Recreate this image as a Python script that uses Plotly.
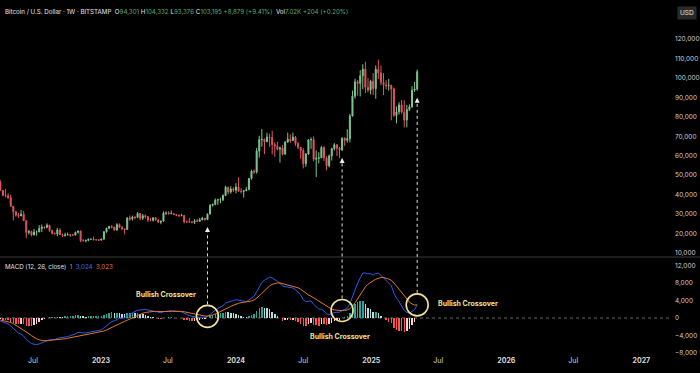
import pandas as pd
import plotly.graph_objects as go

# ---------------- data (weekly BTC/USD, prices in thousands of USD) ----------------
week_start = "2022-04-04"
n_weeks = 162
weeks = pd.date_range(week_start, periods=n_weeks, freq="7D")

open_k = [46.4, 42.2, 39.7, 39.4, 38.5, 34.1, 31.3, 29.4, 29.0, 29.9,
          26.6, 20.6, 21.0, 19.3, 20.8, 20.8, 22.6, 23.3, 23.2, 24.3,
          21.5, 20.0, 19.8, 21.8, 19.4, 18.9, 19.3, 19.4, 19.2, 19.2,
          20.6, 21.3, 16.3, 16.3, 16.5, 17.1, 17.1, 16.8, 16.8, 16.6,
          17.1, 20.9, 22.7, 23.7, 23.3, 21.8, 24.6, 23.2, 22.4, 22.1,
          28.0, 27.5, 28.5, 28.3, 30.3, 27.8, 29.2, 28.7, 26.9, 26.8,
          28.1, 27.1, 25.8, 26.3, 30.5, 30.6, 30.2, 30.3, 29.8, 29.3,
          29.1, 29.3, 26.1, 26.0, 25.9, 25.8, 26.6, 26.3, 27.0, 27.9,
          27.2, 30.0, 34.5, 35.0, 37.1, 37.4, 37.4, 39.5, 43.8, 41.4,
          42.9, 42.3, 43.9, 41.7, 41.6, 42.0, 42.6, 48.3, 52.1, 51.7,
          62.4, 68.3, 68.4, 67.2, 69.6, 69.4, 65.7, 64.9, 63.4, 64.0,
          60.8, 67.0, 68.5, 67.8, 69.6, 66.2, 64.3, 62.7, 55.9, 60.8,
          68.2, 68.3, 58.2, 58.7, 58.9, 64.2, 58.9, 54.8, 59.9, 63.6,
          65.6, 63.9, 63.0, 69.0, 68.0, 68.7, 80.4, 90.6, 98.0, 97.2,
          101.1, 104.5, 95.2, 93.7, 98.3, 94.5, 104.4, 102.6, 97.7, 96.5,
          96.1, 96.2, 94.3, 80.7, 82.6, 86.1, 82.4, 78.4, 83.7, 85.1,
          93.7, 94.301]

high_k = [47.4, 42.4, 42.9, 40.7, 40.0, 34.2, 31.4, 30.6, 32.2, 31.7,
          26.8, 21.9, 21.5, 22.4, 21.5, 24.3, 24.6, 23.6, 25.2, 24.4,
          22.0, 20.6, 22.8, 22.7, 19.9, 20.4, 20.5, 19.6, 19.7, 21.0,
          21.5, 21.5, 17.2, 16.8, 17.4, 17.4, 18.4, 17.0, 16.9, 17.4,
          21.3, 23.0, 23.9, 24.2, 23.4, 25.3, 25.2, 23.9, 22.6, 28.4,
          29.2, 29.2, 28.8, 31.0, 30.5, 30.0, 29.8, 28.9, 28.0, 28.4,
          28.4, 27.4, 26.7, 31.4, 31.3, 31.5, 31.8, 30.4, 30.0, 30.0,
          30.2, 29.5, 26.8, 28.1, 26.4, 27.4, 27.5, 28.0, 28.6, 28.0,
          30.3, 35.2, 35.3, 38.0, 37.9, 38.4, 40.2, 44.5, 44.0, 44.3,
          43.8, 45.9, 48.9, 43.3, 42.3, 43.9, 48.5, 52.8, 52.9, 64.0,
          70.2, 73.7, 68.9, 71.8, 71.3, 72.8, 66.9, 67.2, 64.7, 65.5,
          67.5, 71.9, 71.0, 71.9, 70.1, 67.0, 64.5, 63.8, 61.4, 68.4,
          69.4, 70.0, 62.7, 61.8, 65.0, 64.9, 59.8, 60.6, 64.1, 66.5,
          66.0, 64.5, 69.5, 69.5, 73.6, 81.5, 93.5, 99.6, 98.9, 104.0,
          107.0, 108.3, 99.9, 99.0, 102.5, 106.4, 109.4, 106.4, 102.5, 98.8,
          99.5, 96.5, 95.0, 85.3, 87.5, 88.7, 88.5, 86.1, 86.4, 95.7,
          97.9, 104.332]

low_k = [42.1, 39.2, 38.6, 37.7, 33.7, 26.7, 28.7, 28.0, 29.0, 26.5,
         17.6, 19.6, 18.6, 19.0, 18.9, 20.8, 20.7, 22.4, 22.7, 20.8,
         19.6, 19.6, 18.6, 19.3, 18.2, 18.5, 19.2, 18.2, 18.9, 19.1,
         20.1, 15.6, 15.9, 15.5, 16.0, 16.9, 16.6, 16.4, 16.3, 16.5,
         17.0, 20.4, 22.3, 22.6, 21.4, 21.4, 22.8, 21.9, 19.6, 21.9,
         26.6, 26.6, 27.2, 27.9, 26.9, 27.0, 27.7, 25.8, 26.3, 26.1,
         26.6, 25.4, 24.8, 26.2, 29.5, 29.7, 29.9, 29.5, 28.9, 28.6,
         29.0, 25.2, 25.8, 25.4, 25.3, 24.9, 26.0, 26.0, 26.9, 26.6,
         26.9, 29.9, 33.9, 34.5, 34.8, 35.6, 36.7, 39.4, 40.2, 40.5,
         41.4, 40.7, 41.5, 40.6, 38.5, 41.9, 42.3, 47.7, 50.6, 50.8,
         59.0, 64.6, 60.8, 67.0, 64.5, 60.7, 59.6, 62.8, 56.5, 60.2,
         60.7, 66.7, 66.7, 67.6, 65.1, 63.4, 58.4, 53.5, 54.3, 60.6,
         63.5, 57.1, 49.0, 56.1, 58.8, 57.2, 52.6, 54.0, 57.5, 62.7,
         59.8, 58.9, 62.4, 65.1, 66.8, 66.8, 80.2, 89.4, 90.8, 90.5,
         94.2, 92.2, 92.5, 91.5, 91.2, 89.3, 99.5, 96.2, 91.2, 94.1,
         93.4, 78.2, 80.0, 76.6, 81.2, 81.6, 74.5, 74.6, 83.0, 84.6,
         92.8, 93.376]

close_k = [42.2, 39.7, 39.4, 38.5, 34.1, 31.3, 29.4, 29.0, 29.9, 26.6,
           20.6, 21.0, 19.3, 20.8, 20.8, 22.6, 23.3, 23.2, 24.3, 21.5,
           20.0, 19.8, 21.8, 19.4, 18.9, 19.3, 19.4, 19.2, 19.2, 20.6,
           21.3, 16.3, 16.3, 16.5, 17.1, 17.1, 16.8, 16.8, 16.6, 17.1,
           20.9, 22.7, 23.7, 23.3, 21.8, 24.6, 23.2, 22.4, 22.1, 28.0,
           27.5, 28.5, 28.3, 30.3, 27.8, 29.2, 28.7, 26.9, 26.8, 28.1,
           27.1, 25.8, 26.3, 30.5, 30.6, 30.2, 30.3, 29.8, 29.3, 29.1,
           29.3, 26.1, 26.0, 25.9, 25.8, 26.6, 26.3, 27.0, 27.9, 27.2,
           30.0, 34.5, 35.0, 37.1, 37.4, 37.4, 39.5, 43.8, 41.4, 42.9,
           42.3, 43.9, 41.7, 41.6, 42.0, 42.6, 48.3, 52.1, 51.7, 62.4,
           68.3, 68.4, 67.2, 69.6, 69.4, 65.7, 64.9, 63.4, 64.0, 60.8,
           67.0, 68.5, 67.8, 69.6, 66.2, 64.3, 62.7, 55.9, 60.8, 68.2,
           68.3, 58.2, 58.7, 58.9, 64.2, 58.9, 54.8, 59.9, 63.6, 65.6,
           63.9, 63.0, 69.0, 68.0, 68.7, 80.4, 90.6, 98.0, 97.2, 101.1,
           104.5, 95.2, 93.7, 98.3, 94.5, 104.4, 102.6, 97.7, 96.5, 96.1,
           96.2, 94.3, 80.7, 82.6, 86.1, 82.4, 78.4, 83.7, 85.1, 93.7,
           94.3, 103.195]

# MACD (12, 26, close) pane, thousands of USD
macd_k = [-0.74, -0.96, -1.14, -1.35, -1.84, -2.44, -3.02, -3.48, -3.73, -4.14,
          -4.90, -5.40, -5.86, -6.04, -6.11, -5.95, -5.71, -5.46, -5.12, -5.02,
          -4.99, -4.94, -4.68, -4.61, -4.55, -4.42, -4.25, -4.09, -3.92, -3.63,
          -3.30, -3.41, -3.45, -3.43, -3.32, -3.21, -3.10, -2.99, -2.88, -2.72,
          -2.27, -1.74, -1.23, -0.84, -0.65, -0.27, -0.08, 0.00, 0.04, 0.54,
          0.89, 1.23, 1.47, 1.80, 1.84, 1.96, 1.99, 1.85, 1.71, 1.69,
          1.57, 1.35, 1.21, 1.41, 1.56, 1.64, 1.68, 1.66, 1.58, 1.48,
          1.41, 1.08, 0.81, 0.57, 0.37, 0.28, 0.18, 0.15, 0.20, 0.18,
          0.38, 0.90, 1.33, 1.82, 2.21, 2.49, 2.84, 3.43, 3.66, 3.93,
          4.03, 4.20, 4.11, 3.98, 3.87, 3.78, 4.13, 4.66, 4.99, 6.04,
          7.27, 8.16, 8.66, 9.15, 9.42, 9.23, 8.90, 8.43, 8.01, 7.33,
          7.21, 7.15, 6.97, 6.90, 6.48, 5.93, 5.31, 4.22, 3.71, 3.85,
          3.93, 3.14, 2.53, 2.04, 2.06, 1.62, 0.94, 0.80, 0.97, 1.26,
          1.33, 1.30, 1.74, 1.98, 2.21, 3.30, 4.93, 6.74, 8.01, 9.22,
          10.34, 10.36, 10.14, 10.22, 9.86, 10.25, 10.30, 9.83, 9.25, 8.66,
          8.11, 7.44, 5.74, 4.49, 3.74, 2.82, 1.75, 1.31, 1.06, 1.54,
          1.94, 3.024]

signal_k = [-0.47, -0.57, -0.68, -0.82, -1.02, -1.30, -1.65, -2.01, -2.36, -2.71,
            -3.15, -3.60, -4.05, -4.45, -4.78, -5.02, -5.16, -5.22, -5.20, -5.16,
            -5.13, -5.09, -5.01, -4.93, -4.85, -4.77, -4.66, -4.55, -4.42, -4.26,
            -4.07, -3.94, -3.84, -3.76, -3.67, -3.58, -3.48, -3.38, -3.28, -3.17,
            -2.99, -2.74, -2.44, -2.12, -1.82, -1.51, -1.23, -0.98, -0.78, -0.51,
            -0.23, 0.06, 0.34, 0.63, 0.88, 1.09, 1.27, 1.39, 1.45, 1.50,
            1.51, 1.48, 1.43, 1.42, 1.45, 1.49, 1.53, 1.55, 1.56, 1.54,
            1.52, 1.43, 1.31, 1.16, 1.00, 0.86, 0.72, 0.61, 0.53, 0.46,
            0.44, 0.53, 0.69, 0.92, 1.18, 1.44, 1.72, 2.06, 2.38, 2.69,
            2.96, 3.21, 3.39, 3.51, 3.58, 3.62, 3.72, 3.91, 4.13, 4.51,
            5.06, 5.68, 6.28, 6.85, 7.37, 7.74, 7.97, 8.06, 8.05, 7.91,
            7.77, 7.64, 7.51, 7.39, 7.21, 6.95, 6.62, 6.14, 5.66, 5.30,
            5.02, 4.65, 4.22, 3.79, 3.44, 3.08, 2.65, 2.28, 2.02, 1.87,
            1.76, 1.67, 1.68, 1.74, 1.84, 2.13, 2.69, 3.50, 4.40, 5.37,
            6.36, 7.16, 7.76, 8.25, 8.57, 8.91, 9.19, 9.32, 9.30, 9.17,
            8.96, 8.66, 8.07, 7.36, 6.63, 5.87, 5.05, 4.30, 3.65, 3.23,
            2.97, 3.023]

hist_k = [-0.27, -0.39, -0.46, -0.54, -0.82, -1.14, -1.37, -1.47, -1.37, -1.43,
          -1.75, -1.80, -1.81, -1.59, -1.33, -0.93, -0.56, -0.24, 0.08, 0.14,
          0.14, 0.15, 0.33, 0.32, 0.30, 0.35, 0.41, 0.46, 0.50, 0.63,
          0.77, 0.53, 0.39, 0.33, 0.35, 0.37, 0.38, 0.39, 0.40, 0.45,
          0.72, 1.00, 1.21, 1.28, 1.17, 1.24, 1.15, 0.98, 0.82, 1.05,
          1.12, 1.17, 1.13, 1.17, 0.96, 0.87, 0.72, 0.46, 0.26, 0.19,
          0.06, -0.13, -0.22, -0.01, 0.11, 0.15, 0.15, 0.11, 0.02, -0.06,
          -0.11, -0.35, -0.50, -0.59, -0.63, -0.58, -0.54, -0.46, -0.33, -0.28,
          -0.06, 0.37, 0.64, 0.90, 1.03, 1.05, 1.12, 1.37, 1.28, 1.24,
          1.07, 0.99, 0.72, 0.47, 0.29, 0.16, 0.41, 0.75, 0.87, 1.53,
          2.21, 2.48, 2.38, 2.30, 2.06, 1.49, 0.93, 0.37, -0.04, -0.58,
          -0.56, -0.49, -0.54, -0.49, -0.73, -1.02, -1.31, -1.92, -1.95, -1.44,
          -1.09, -1.51, -1.69, -1.75, -1.38, -1.46, -1.71, -1.48, -1.05, -0.61,
          -0.43, -0.37, 0.06, 0.24, 0.37, 1.17, 2.24, 3.24, 3.61, 3.86,
          3.98, 3.20, 2.38, 1.97, 1.29, 1.34, 1.11, 0.52, -0.05, -0.51,
          -0.85, -1.22, -2.33, -2.87, -2.89, -3.05, -3.30, -2.99, -2.59, -1.69,
          -1.03, 0.001]

price_ticks = [10000, 20000, 30000, 40000, 50000, 60000, 70000, 80000, 90000, 100000, 110000, 120000]
macd_ticks = [-8000, -4000, 0, 4000, 8000, 12000]
x_tick_dates = ["2022-07-01", "2023-01-01", "2023-07-01", "2024-01-01", "2024-07-01",
                "2025-01-01", "2025-07-01", "2026-01-01", "2026-07-01", "2027-01-01"]
x_tick_text = ["Jul", "2023", "Jul", "2024", "Jul", "2025", "Jul", "2026", "Jul", "2027"]
crossover_weeks = ["2023-10-16", "2024-10-14", "2025-05-05"]
crossover_label = "Bullish Crossover"

to_usd = lambda arr: [v * 1000 for v in arr]
o, h, l, c = to_usd(open_k), to_usd(high_k), to_usd(low_k), to_usd(close_k)
macd, signal, hist = to_usd(macd_k), to_usd(signal_k), to_usd(hist_k)

# ---------------- layout geometry ----------------
W, H = 700, 373
M_R, M_B = 28, 18
PW = W - M_R
PH = H - M_B                       # plot-area height in px
price_dom = [(PH - 257) / PH, (PH - 20) / PH]
macd_dom = [0.0, (PH - 258) / PH]
price_rng = [7943, 129769]
macd_rng = [-8506, 13793]
x_rng = ["2022-04-03", "2027-03-25"]

BG = "#000000"
UP, DN = "#7cc690", "#e0565f"
YEL = "#efe29a"
FONT = "Inter, Noto Sans, sans-serif"

# histogram colours (TradingView style)
hcol = []
for i, v in enumerate(hist):
    prev = hist[i - 1] if i > 0 else v
    if v >= 0:
        hcol.append("#26a69a" if v >= prev else "#b2dfdb")
    else:
        hcol.append("#ffcdd2" if v >= prev else "#ff5252")

fig = go.Figure()
fig.add_trace(go.Candlestick(
    x=weeks, open=o, high=h, low=l, close=c, xaxis="x", yaxis="y",
    increasing=dict(line=dict(color=UP, width=1), fillcolor=UP),
    decreasing=dict(line=dict(color=DN, width=1), fillcolor=DN),
    whiskerwidth=0, hoverinfo="skip", showlegend=False))
fig.add_trace(go.Bar(x=weeks, y=hist, xaxis="x2", yaxis="y2",
                     marker=dict(color=hcol, line=dict(width=0)),
                     width=4 * 86400000, hoverinfo="skip", showlegend=False))
fig.add_trace(go.Scatter(x=weeks, y=macd, xaxis="x2", yaxis="y2", mode="lines",
                         line=dict(color="#2f5bea", width=1), hoverinfo="skip", showlegend=False))
fig.add_trace(go.Scatter(x=weeks, y=signal, xaxis="x2", yaxis="y2", mode="lines",
                         line=dict(color="#e0792f", width=1), hoverinfo="skip", showlegend=False))

ax_common = dict(showgrid=False, zeroline=False, showline=False, ticks="", ticklen=0)
fig.update_layout(
    width=W, height=H, paper_bgcolor=BG, plot_bgcolor=BG,
    margin=dict(l=0, r=M_R, t=0, b=M_B),
    font=dict(family=FONT, color="#d0d0d0", size=7),
    showlegend=False, bargap=0, boxgap=0.45,
    xaxis=dict(domain=[0, 1], anchor="y", type="date", range=x_rng,
               showticklabels=False, rangeslider=dict(visible=False), **ax_common),
    xaxis2=dict(domain=[0, 1], anchor="y2", type="date", range=x_rng, matches="x",
                tickvals=x_tick_dates,
                ticktext=[("<b>%s</b>" % t) if t.isdigit() else t for t in x_tick_text],
                tickfont=dict(size=7, color="#d8d8d8"), **ax_common),
    yaxis=dict(domain=price_dom, anchor="x", side="right", range=price_rng,
               tickvals=price_ticks, tickformat=",", ticklabelstandoff=2,
               tickfont=dict(size=6.5, color="#cfcfcf"), **ax_common),
    yaxis2=dict(domain=macd_dom, anchor="x2", side="right", range=macd_rng,
                tickvals=macd_ticks, tickformat=",", ticklabelstandoff=2,
                tickfont=dict(size=6.5, color="#cfcfcf"), **ax_common),
)

def price_paper(v):
    return price_dom[0] + (v - price_rng[0]) / (price_rng[1] - price_rng[0]) * (price_dom[1] - price_dom[0])

def macd_paper(v):
    return macd_dom[0] + (v - macd_rng[0]) / (macd_rng[1] - macd_rng[0]) * (macd_dom[1] - macd_dom[0])

shapes = []
# pane separator and zero line
shapes.append(dict(type="line", xref="paper", yref="paper", x0=0, x1=W / PW,
                   y0=(PH - 257) / PH, y1=(PH - 257) / PH, line=dict(color="#3a3a3a", width=1)))
shapes.append(dict(type="line", xref="x2 domain", yref="y2", x0=0, x1=1, y0=0, y1=0,
                   line=dict(color="#6a6a6a", width=1, dash="3px,3px"), layer="below"))

annotations = []
idx = {d.strftime("%Y-%m-%d"): i for i, d in enumerate(weeks)}
R = 11
for k, d in enumerate(crossover_weeks):
    i = idx[d]
    mval = macd[i]
    shapes.append(dict(type="circle", xref="x2", yref="y2", xsizemode="pixel", ysizemode="pixel",
                       xanchor=d, yanchor=mval, x0=-R, x1=R, y0=-R, y1=R,
                       line=dict(color=YEL, width=1.6)))
    tip = price_paper(l[i]) - 7 / PH
    bottom = macd_paper(mval) + (R + 1) / PH
    shapes.append(dict(type="line", xref="x", yref="paper", x0=d, x1=d, y0=bottom, y1=tip - 5 / PH,
                       line=dict(color="#e9e4c8", width=1, dash="dot")))
    annotations.append(dict(xref="x", yref="paper", x=d, y=tip, ax=0, ay=6, showarrow=True,
                            arrowhead=2, arrowsize=1, arrowwidth=1, arrowcolor="#eeeeee", text=""))

label_px = [(166, 294), (340, 336), (468, 303)]
for (px, py) in label_px:
    annotations.append(dict(xref="paper", yref="paper", x=px / PW, y=(PH - py) / PH,
                            text="<b>%s</b>" % crossover_label, showarrow=False,
                            font=dict(size=7, color=YEL), xanchor="center", yanchor="middle"))

G = "#5fae72"
header = ("Bitcoin / U.S. Dollar · 1W · BITSTAMP  "
          "O<span style='color:%s'>94,301</span> H<span style='color:%s'>104,332</span> "
          "L<span style='color:%s'>93,376</span> C<span style='color:%s'>103,195</span> "
          "<span style='color:%s'>+8,879 (+9.41%%)</span>  Vol<span style='color:%s'>7.02K</span> "
          "<span style='color:%s'>+204 (+0.20%%)</span>") % (G, G, G, G, G, G, G)
annotations.append(dict(xref="paper", yref="paper", x=3 / PW, y=(PH - 12) / PH, text=header,
                        showarrow=False, xanchor="left", yanchor="middle",
                        font=dict(size=6.2, color="#e6e6e6")))
annotations.append(dict(xref="paper", yref="paper", x=697 / PW, y=(PH - 13) / PH, text="USD",
                        showarrow=False, xanchor="right", yanchor="middle", bgcolor="#2a2a2a",
                        borderpad=2, font=dict(size=6.5, color="#e6e6e6")))
macd_head = ("MACD (12, 26, close)  <span style='color:#6fb0a6'>1</span>  "
             "<span style='color:#4d6cf0'>3,024</span>  <span style='color:#e0792f'>3,023</span>")
annotations.append(dict(xref="paper", yref="paper", x=3 / PW, y=(PH - 266) / PH, text=macd_head,
                        showarrow=False, xanchor="left", yanchor="middle",
                        font=dict(size=6.2, color="#e0e0e0")))

fig.update_layout(shapes=shapes, annotations=annotations)
fig.write_html("out.html",
               config={"displayModeBar": False, "staticPlot": True},
               post_script="document.body.style.margin='0px';"
                           "document.body.style.background='#000000';"
                           "document.body.style.overflow='hidden';")
